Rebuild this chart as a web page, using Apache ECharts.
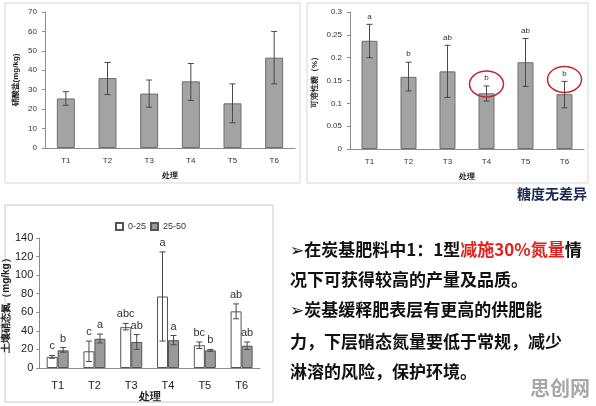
<!DOCTYPE html>
<html><head><meta charset="utf-8">
<script src="https://cdn.jsdelivr.net/npm/echarts@6/dist/echarts.min.js"></script>
<style>html,body{margin:0;padding:0;background:#fff}#c{width:596px;height:406px}</style>
</head><body><div id="c"></div>
<script>
// ---- data ----
const cats = ['T1','T2','T3','T4','T5','T6'];
// Panel 1: nitrate (mg/kg)
const nitrate = [25.5, 36, 28, 34.3, 23, 46.5];
const nitrateLow = [22, 27.5, 21, 24.5, 13, 33];
const nitrateHigh = [29, 44, 35, 43.5, 33, 60];
// Panel 2: soluble sugar (%)
const sugar = [0.237, 0.158, 0.17, 0.122, 0.19, 0.12];
const sugarLow = [0.2, 0.127, 0.113, 0.105, 0.137, 0.09];
const sugarHigh = [0.273, 0.19, 0.227, 0.138, 0.242, 0.148];
const sugarLetters = ['a','b','ab','b','ab','b'];
const sugarCircled = [false,false,false,true,false,true];
// Panel 3: soil nitrate N by depth
const depthNames = ['0-25','25-50'];
const d1 = [12, 18, 44, 77, 24.5, 61];
const d1Low = [10.5, 7, 41, 29, 21, 53];
const d1High = [13.5, 29, 48, 125, 28, 69];
const d1Letters = ['c','c','abc','a','bc','ab'];
const d2 = [19, 31.5, 28, 30, 19, 24];
const d2Low = [17, 27, 20, 25, 18, 20];
const d2High = [22, 36.5, 36, 35, 20, 28];
const d2Letters = ['b','a','ab','a','b','ab'];
// text
const line1a = '➢在炭基肥料中1：1型', line1b = '减施30%氮量', line1c = '情';
const textLines = ['况下可获得较高的产量及品质。','➢炭基缓释肥表层有更高的供肥能','力，下层硝态氮量要低于常规，减少','淋溶的风险，保护环境。'];

const chart = echarts.init(document.getElementById('c'));
const F = 'Arial, "Liberation Sans", "Noto Sans CJK SC", sans-serif';

function errSeries(xi, yi, lows, highs, letters, offset, fs, circled, gap) {
  return {
    type: 'custom', xAxisIndex: xi, yAxisIndex: yi, z: 10,
    data: cats.map((c, i) => [i, lows[i], highs[i]]),
    encode: {x: 0, y: [1, 2]},
    renderItem: function (params, api) {
      const i = api.value(0);
      const lo = api.coord([i, api.value(1)]);
      const hi = api.coord([i, api.value(2)]);
      const x = lo[0] + offset;
      const st = {stroke: '#4a4a4a', lineWidth: 1};
      const ch = [
        {type: 'line', shape: {x1: x, y1: lo[1], x2: x, y2: hi[1]}, style: st},
        {type: 'line', shape: {x1: x - 3, y1: lo[1], x2: x + 3, y2: lo[1]}, style: st},
        {type: 'line', shape: {x1: x - 3, y1: hi[1], x2: x + 3, y2: hi[1]}, style: st}
      ];
      if (letters) {
        const ty = hi[1] - gap;
        ch.push({type: 'text', style: {text: letters[i], x: x, y: ty, align: 'center', verticalAlign: 'middle',
          fill: '#333', font: (fs) + 'px ' + F}});
        if (circled && circled[i]) {
          ch.push({type: 'ellipse', shape: {cx: x, cy: ty + 6, rx: 17, ry: 13},
            style: {fill: 'none', stroke: '#c0283a', lineWidth: 1.5}});
        }
      }
      return {type: 'group', children: ch};
    }
  };
}

const smallAxisLabel = {fontSize: 8, color: '#333', fontFamily: F};
const axisLine = {lineStyle: {color: '#8c8c8c', width: 1}};

const option = {
  animation: false,
  backgroundColor: '#fff',
  grid: [
    {left: 45, top: 12, width: 250, height: 136},
    {left: 350, top: 12, width: 234, height: 137},
    {left: 35, top: 238, width: 225, height: 130}
  ],
  legend: {
    data: depthNames, top: 217, left: 110, itemWidth: 7, itemHeight: 7, itemGap: 4,
    textStyle: {fontSize: 9, color: '#333', fontFamily: F}, icon: 'rect'
  },
  xAxis: [
    {type: 'category', gridIndex: 0, data: cats, axisLine: axisLine, axisTick: {length: 3, lineStyle: {color: '#8c8c8c'}},
      axisLabel: Object.assign({margin: 9}, smallAxisLabel), name: '处理', nameLocation: 'middle', nameGap: 24,
      nameTextStyle: {fontSize: 8, fontWeight: 'bold', color: '#222'}},
    {type: 'category', gridIndex: 1, data: cats, axisLine: axisLine, axisTick: {length: 3, lineStyle: {color: '#8c8c8c'}},
      axisLabel: Object.assign({margin: 9}, smallAxisLabel), name: '处理', nameLocation: 'middle', nameGap: 24,
      nameTextStyle: {fontSize: 8, fontWeight: 'bold', color: '#222'}},
    {type: 'category', gridIndex: 2, data: cats, axisLine: axisLine, axisTick: {length: 3, lineStyle: {color: '#8c8c8c'}},
      axisLabel: {fontSize: 11, color: '#222', margin: 12, fontFamily: F}, name: '处理', nameLocation: 'middle', nameGap: 20,
      nameTextStyle: {fontSize: 11, fontWeight: 'bold', color: '#222'}}
  ],
  yAxis: [
    {type: 'value', gridIndex: 0, min: 0, max: 70, interval: 10, splitLine: {show: false},
      axisLine: {show: true, lineStyle: {color: '#8c8c8c'}}, axisTick: {show: true, length: 3, lineStyle: {color: '#8c8c8c'}},
      axisLabel: Object.assign({margin: 8}, smallAxisLabel), name: '硝酸盐(mg/kg)', nameLocation: 'middle', nameGap: 25,
      nameTextStyle: {fontSize: 8, fontWeight: 'bold', color: '#222'}},
    {type: 'value', gridIndex: 1, min: 0, max: 0.3, interval: 0.05, splitLine: {show: false},
      axisLine: {show: true, lineStyle: {color: '#8c8c8c'}}, axisTick: {show: true, length: 3, lineStyle: {color: '#8c8c8c'}},
      axisLabel: Object.assign({margin: 8}, smallAxisLabel), name: '可溶性糖（%）', nameLocation: 'middle', nameGap: 31,
      nameTextStyle: {fontSize: 8, fontWeight: 'bold', color: '#222'}},
    {type: 'value', gridIndex: 2, min: 0, max: 140, interval: 20, splitLine: {show: false},
      axisLine: {show: true, lineStyle: {color: '#8c8c8c'}}, axisTick: {show: true, length: 3, lineStyle: {color: '#8c8c8c'}},
      axisLabel: {fontSize: 11, color: '#222', margin: 6, fontFamily: F}, name: '土壤硝态氮（mg/kg）', nameLocation: 'middle', nameGap: 23,
      nameTextStyle: {fontSize: 10, fontWeight: 'bold', color: '#222'}}
  ],
  series: [
    {type: 'bar', xAxisIndex: 0, yAxisIndex: 0, data: nitrate, barWidth: 18,
      itemStyle: {color: '#a3a3a3', borderColor: '#6e6e6e', borderWidth: 1}},
    errSeries(0, 0, nitrateLow, nitrateHigh, null, 0, 8, null, 0),
    {type: 'bar', xAxisIndex: 1, yAxisIndex: 1, data: sugar, barWidth: 16,
      itemStyle: {color: '#a3a3a3', borderColor: '#6e6e6e', borderWidth: 1}},
    errSeries(1, 1, sugarLow, sugarHigh, sugarLetters, 0, 8, sugarCircled, 8),
    {type: 'bar', name: depthNames[0], xAxisIndex: 2, yAxisIndex: 2, data: d1, barWidth: 11, barGap: '0%',
      itemStyle: {color: '#ffffff', borderColor: '#555', borderWidth: 1}},
    {type: 'bar', name: depthNames[1], xAxisIndex: 2, yAxisIndex: 2, data: d2, barWidth: 11, barGap: '0%',
      itemStyle: {color: '#9a9a9a', borderColor: '#555', borderWidth: 1}},
    errSeries(2, 2, d1Low, d1High, d1Letters, -5.5, 11, null, 9),
    errSeries(2, 2, d2Low, d2High, d2Letters, 5.5, 11, null, 9)
  ],
  graphic: [
    {type: 'rect', shape: {x: 5, y: 3, width: 295, height: 180}, style: {fill: 'none', stroke: '#d6d6d6', lineWidth: 1}, z: 0},
    {type: 'rect', shape: {x: 307, y: 3, width: 281, height: 180}, style: {fill: 'none', stroke: '#d6d6d6', lineWidth: 1}, z: 0},
    {type: 'rect', shape: {x: 5, y: 205, width: 268, height: 197}, style: {fill: 'none', stroke: '#c8c8c8', lineWidth: 1}, z: 0},
    {type: 'text', style: {text: '糖度无差异', x: 552, y: 194, align: 'center', verticalAlign: 'middle',
      font: 'bold 14px "Noto Sans CJK SC", sans-serif', fill: '#1c2a55'}},
    {type: 'text', style: {x: 290, y: 250, verticalAlign: 'middle',
      text: '{a|' + line1a + '}{r|' + line1b + '}{a|' + line1c + '}',
      rich: {a: {font: 'bold 17px "Noto Sans CJK SC", "DejaVu Sans", sans-serif', fill: '#111'},
             r: {font: 'bold 17px "Noto Sans CJK SC", "DejaVu Sans", sans-serif', fill: '#e3211c'}}}},
    ...textLines.map((t, k) => ({type: 'text', style: {text: t, x: 290, y: [280, 310, 342, 372][k], verticalAlign: 'middle',
      font: 'bold 17px "Noto Sans CJK SC", "DejaVu Sans", sans-serif', fill: '#111'}})),
    {type: 'text', style: {text: '思创网', x: 560, y: 388, align: 'center', verticalAlign: 'middle',
      font: 'bold 20px "Noto Sans CJK SC", sans-serif', fill: '#a8a8a8'}}
  ]
};
chart.setOption(option);
</script>
</body></html>
